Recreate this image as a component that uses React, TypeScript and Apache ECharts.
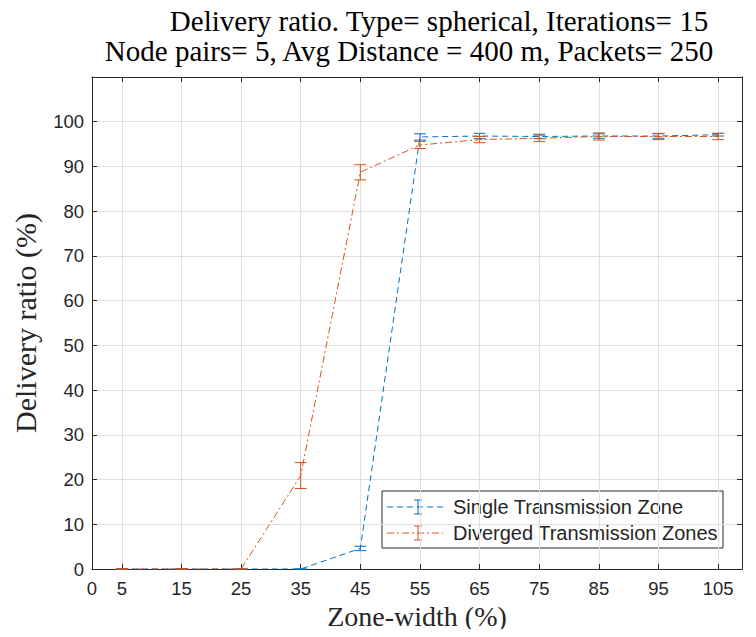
import React, { useEffect, useRef } from "react";
import * as echarts from "echarts";

const zoneWidth = [5, 15, 25, 35, 45, 55, 65, 75, 85, 95, 105];
const xTicks = [0, 5, 15, 25, 35, 45, 55, 65, 75, 85, 95, 105];
const singleMean = [0, 0, 0, 0, 4.6, 96.6, 96.8, 96.7, 96.8, 96.8, 97.1];
const singleErr = [0, 0, 0, 0, 0.5, 0.7, 0.6, 0.5, 0.5, 0.5, 0.3];
const divergedMean = [0, 0, 0, 20.9, 88.7, 94.8, 96.0, 96.3, 96.7, 96.7, 96.7];
const divergedErr = [0, 0, 0, 2.9, 1.7, 0.8, 0.7, 0.7, 0.8, 0.7, 0.7];
const seriesNames = ["Single Transmission Zone", "Diverged Transmission Zones"];
const titleLines = [
  "Delivery ratio. Type= spherical, Iterations= 15",
  "Node pairs= 5, Avg Distance = 400 m, Packets= 250",
];

const BLUE = "#0072BD";
const ORANGE = "#D95319";
const AXIS = "#262626";
const SERIF = "'Liberation Serif', 'DejaVu Serif', serif";
const SANS = "'Liberation Sans', Arial, sans-serif";

const errRender = (color: string) => (params: any, api: any) => {
  const x = api.value(0);
  const lo = api.coord([x, api.value(1)]);
  const hi = api.coord([x, api.value(2)]);
  const hw = 6;
  const st = { stroke: color, lineWidth: 1 };
  return {
    type: "group",
    children: [
      { type: "line", shape: { x1: lo[0], y1: lo[1], x2: hi[0], y2: hi[1] }, style: st },
      { type: "line", shape: { x1: lo[0] - hw, y1: lo[1], x2: lo[0] + hw, y2: lo[1] }, style: st },
      { type: "line", shape: { x1: hi[0] - hw, y1: hi[1], x2: hi[0] + hw, y2: hi[1] }, style: st },
    ],
  };
};

export default function App() {
  const ref = useRef<HTMLDivElement>(null);
  useEffect(() => {
    const chart = echarts.init(ref.current!, null, { renderer: "svg" });
    const legendX = 382, legendY = 491;
    const legendRow = (i: number, color: string, dash: number[]) => {
      const cy = legendY + 16 + i * 26;
      return [
        { type: "line", shape: { x1: legendX + 5, y1: cy, x2: legendX + 61, y2: cy }, style: { stroke: color, lineWidth: 1, lineDash: dash } },
        { type: "line", shape: { x1: legendX + 36, y1: cy - 7, x2: legendX + 36, y2: cy + 7 }, style: { stroke: color, lineWidth: 1 } },
        { type: "line", shape: { x1: legendX + 32, y1: cy - 7, x2: legendX + 40, y2: cy - 7 }, style: { stroke: color, lineWidth: 1 } },
        { type: "line", shape: { x1: legendX + 32, y1: cy + 7, x2: legendX + 40, y2: cy + 7 }, style: { stroke: color, lineWidth: 1 } },
        { type: "text", x: legendX + 71, y: cy, style: { text: seriesNames[i], font: `20px ${SANS}`, fill: AXIS, textVerticalAlign: "middle" } },
      ];
    };
    chart.setOption({
      animation: false,
      backgroundColor: "#fff",
      grid: { left: 92, right: 14, top: 77, bottom: 68, containLabel: false },
      xAxis: [
        {
          type: "value",
          min: 0,
          max: 109,
          position: "bottom",
          name: "Zone-width (%)",
          nameLocation: "middle",
          nameGap: 33,
          nameTextStyle: { fontFamily: SERIF, fontSize: 28, color: AXIS },
          axisLine: { show: true, onZero: false, lineStyle: { color: AXIS, width: 1 } },
          axisTick: { show: true, inside: true, length: 5, customValues: xTicks, lineStyle: { color: AXIS } },
          axisLabel: { customValues: xTicks, fontFamily: SANS, fontSize: 18.5, color: AXIS, margin: 10 },
          splitLine: { show: true, lineStyle: { color: "#e0e0e0", width: 1 } },
        },
        {
          type: "value",
          min: 0,
          max: 109,
          position: "top",
          axisLine: { show: true, onZero: false, lineStyle: { color: AXIS, width: 1 } },
          axisTick: { show: true, inside: true, length: 5, customValues: xTicks.slice(1), lineStyle: { color: AXIS } },
          axisLabel: { show: false },
          splitLine: { show: false },
        },
      ],
      yAxis: [
        {
          type: "value",
          min: 0,
          max: 110,
          interval: 10,
          position: "left",
          name: "Delivery ratio (%)",
          nameLocation: "middle",
          nameGap: 52,
          nameTextStyle: { fontFamily: SERIF, fontSize: 30, color: AXIS },
          axisLine: { show: true, onZero: false, lineStyle: { color: AXIS, width: 1 } },
          axisTick: { show: true, inside: true, length: 5, lineStyle: { color: AXIS } },
          axisLabel: {
            fontFamily: SANS,
            fontSize: 18.5,
            color: AXIS,
            margin: 8,
            formatter: (v: number) => (v > 100 ? "" : String(v)),
          },
          splitLine: { show: true, lineStyle: { color: "#e0e0e0", width: 1 } },
        },
        {
          type: "value",
          min: 0,
          max: 110,
          interval: 10,
          position: "right",
          axisLine: { show: true, onZero: false, lineStyle: { color: AXIS, width: 1 } },
          axisTick: { show: true, inside: true, length: 5, lineStyle: { color: AXIS } },
          axisLabel: { show: false },
          splitLine: { show: false },
        },
      ],
      series: [
        {
          type: "line",
          name: seriesNames[0],
          data: zoneWidth.map((x, i) => [x, singleMean[i]]),
          symbol: "none",
          lineStyle: { color: BLUE, width: 1, type: [6, 4] },
          z: 3,
        },
        {
          type: "custom",
          name: seriesNames[0] + " err",
          data: zoneWidth.map((x, i) => [x, singleMean[i] - singleErr[i], singleMean[i] + singleErr[i]]),
          renderItem: errRender(BLUE),
          z: 3,
        },
        {
          type: "line",
          name: seriesNames[1],
          data: zoneWidth.map((x, i) => [x, divergedMean[i]]),
          symbol: "none",
          lineStyle: { color: ORANGE, width: 1, type: [7, 3, 2, 3] },
          z: 4,
        },
        {
          type: "custom",
          name: seriesNames[1] + " err",
          data: zoneWidth.map((x, i) => [x, divergedMean[i] - divergedErr[i], divergedMean[i] + divergedErr[i]]),
          renderItem: errRender(ORANGE),
          z: 4,
        },
      ],
      graphic: [
        { type: "text", x: 439, y: 21, style: { text: titleLines[0], font: `29px ${SERIF}`, fill: "#000", textAlign: "center", textVerticalAlign: "middle" } },
        { type: "text", x: 409, y: 51, style: { text: titleLines[1], font: `29px ${SERIF}`, fill: "#000", textAlign: "center", textVerticalAlign: "middle" } },
        {
          type: "group",
          z: 100,
          children: [
            { type: "rect", shape: { x: legendX, y: legendY, width: 341, height: 57 }, style: { fill: "#fff", stroke: AXIS, lineWidth: 1 } },
            ...legendRow(0, BLUE, [6, 4]),
            ...legendRow(1, ORANGE, [7, 3, 2, 3]),
          ],
        },
      ],
    });
    return () => chart.dispose();
  }, []);
  return <div ref={ref} style={{ width: 756, height: 637, margin: -8 }} />;
}
